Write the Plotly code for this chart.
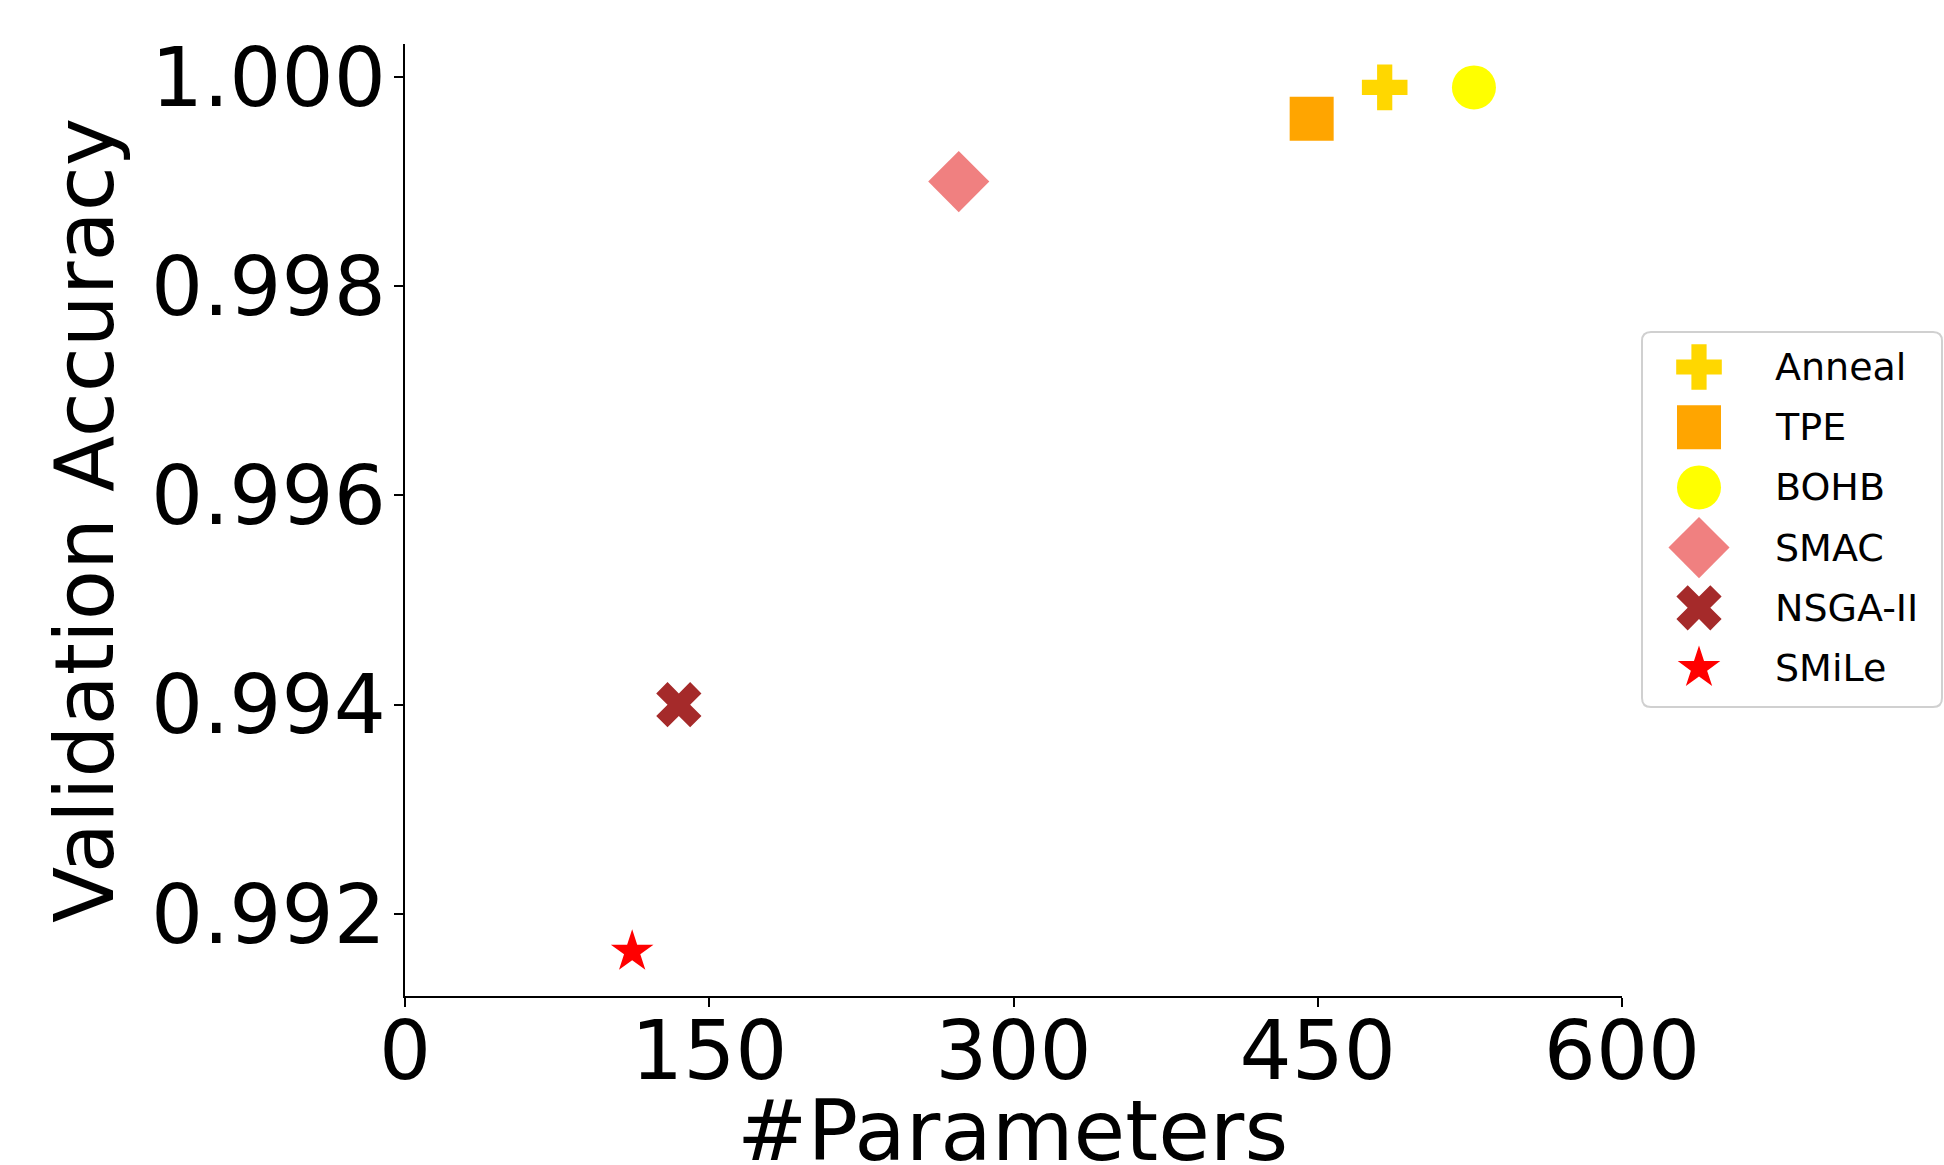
import plotly.graph_objects as go

# ---- data ----
methods = ["Anneal", "TPE", "BOHB", "SMAC", "NSGA-II", "SMiLe"]
n_params = [483, 447, 527, 273, 135, 112]
val_acc = [0.99990, 0.99960, 0.99990, 0.99900, 0.99400, 0.99164]
x_ticks = [0, 150, 300, 450, 600]
y_ticks = [0.992, 0.994, 0.996, 0.998, 1.000]
x_title = "#Parameters"
y_title = "Validation Accuracy"

# ---- styles ----
colors = ["#FFD700", "#FFA500", "#FFFF00", "#F08080", "#A52A2A", "#FF0000"]
symbols = ["cross", "square", "circle", "diamond", "x", "star"]
sizes = [38, 44, 44, 47, 40, 32]

W, H = 1944, 1165
# plot area in pixels
PL, PR, PT, PB = 405, 1622, 44, 996
# legend box in pixels
LL, LR, LT, LB = 1642, 1942, 332, 707

FONT = "DejaVu Sans"

fig = go.Figure()
for m, x, y, c, s, z in zip(methods, n_params, val_acc, colors, symbols, sizes):
    fig.add_trace(go.Scatter(
        x=[x], y=[y], mode="markers", name=m, showlegend=False,
        marker=dict(color=c, symbol=s, size=z, line=dict(width=0)),
        xaxis="x", yaxis="y", hoverinfo="x+y+name"))

# custom legend (drawn on an auxiliary axis pair so markers keep their size)
for i, (m, c, s, z) in enumerate(zip(methods, colors, symbols, sizes)):
    fig.add_trace(go.Scatter(
        x=[57], y=[i], mode="markers", showlegend=False,
        marker=dict(color=c, symbol=s, size=z, line=dict(width=0)),
        xaxis="x2", yaxis="y2", hoverinfo="skip"))
    fig.add_annotation(x=131, y=i, xref="x2", yref="y2", text=m,
                       showarrow=False, xanchor="left", yanchor="middle",
                       font=dict(family=FONT, size=38, color="#000000"))

row_sp = 60.2
first = 35
leg_h = LB - LT


def px_x(p):
    return p / W


def px_y(p):
    return 1 - p / H


# rounded legend frame
r = 9
x0, x1, y0, y1 = px_x(LL), px_x(LR), px_y(LB), px_y(LT)
rx, ry = r / W, r / H
path = (f"M {x0+rx},{y1} L {x1-rx},{y1} Q {x1},{y1} {x1},{y1-ry} "
        f"L {x1},{y0+ry} Q {x1},{y0} {x1-rx},{y0} L {x0+rx},{y0} "
        f"Q {x0},{y0} {x0},{y0+ry} L {x0},{y1-ry} Q {x0},{y1} {x0+rx},{y1} Z")
fig.add_shape(type="path", path=path, xref="paper", yref="paper",
              line=dict(color="#D0D0D0", width=2), fillcolor="rgba(255,255,255,0.8)",
              layer="below")

# axis titles
fig.add_annotation(x=px_x(1013), y=px_y(1131), xref="paper", yref="paper",
                   text=x_title, showarrow=False, xanchor="center", yanchor="middle",
                   font=dict(family=FONT, size=84, color="black"))
fig.add_annotation(x=px_x(84), y=px_y(521), xref="paper", yref="paper",
                   text=y_title, showarrow=False, xanchor="center", yanchor="middle",
                   textangle=-90,
                   font=dict(family=FONT, size=82, color="black"))

y_lo = 0.991216
y_hi = 1.000315

fig.update_layout(
    width=W, height=H,
    margin=dict(l=0, r=0, t=0, b=0, autoexpand=False),
    paper_bgcolor="white", plot_bgcolor="white",
    font=dict(family=FONT, color="black"),
    showlegend=False,
    xaxis=dict(
        domain=[px_x(PL), px_x(PR)], range=[0, 600],
        tickvals=x_ticks, ticktext=[str(v) for v in x_ticks],
        showline=True, linecolor="black", linewidth=1.5,
        ticks="outside", ticklen=9, tickwidth=1.5, tickcolor="black",
        showgrid=False, zeroline=False,
        tickfont=dict(family=FONT, size=82, color="black"),
        ticklabelstandoff=-26,
        anchor="y", automargin=False,
    ),
    yaxis=dict(
        domain=[px_y(PB), px_y(PT)], range=[y_lo, y_hi],
        tickvals=y_ticks, ticktext=[f"{v:.3f}" for v in y_ticks],
        showline=True, linecolor="black", linewidth=1.5,
        ticks="outside", ticklen=9, tickwidth=1.5, tickcolor="black",
        showgrid=False, zeroline=False,
        tickfont=dict(family=FONT, size=82, color="black"),
        ticklabelstandoff=-8,
        anchor="x", automargin=False,
    ),
    xaxis2=dict(
        domain=[px_x(LL), px_x(LR)], range=[0, LR - LL],
        visible=False, fixedrange=True, anchor="y2",
    ),
    yaxis2=dict(
        domain=[px_y(LB), px_y(LT)],
        range=[(leg_h - first) / row_sp, -first / row_sp],
        visible=False, fixedrange=True, anchor="x2",
    ),
)

fig.write_html("out.html")
